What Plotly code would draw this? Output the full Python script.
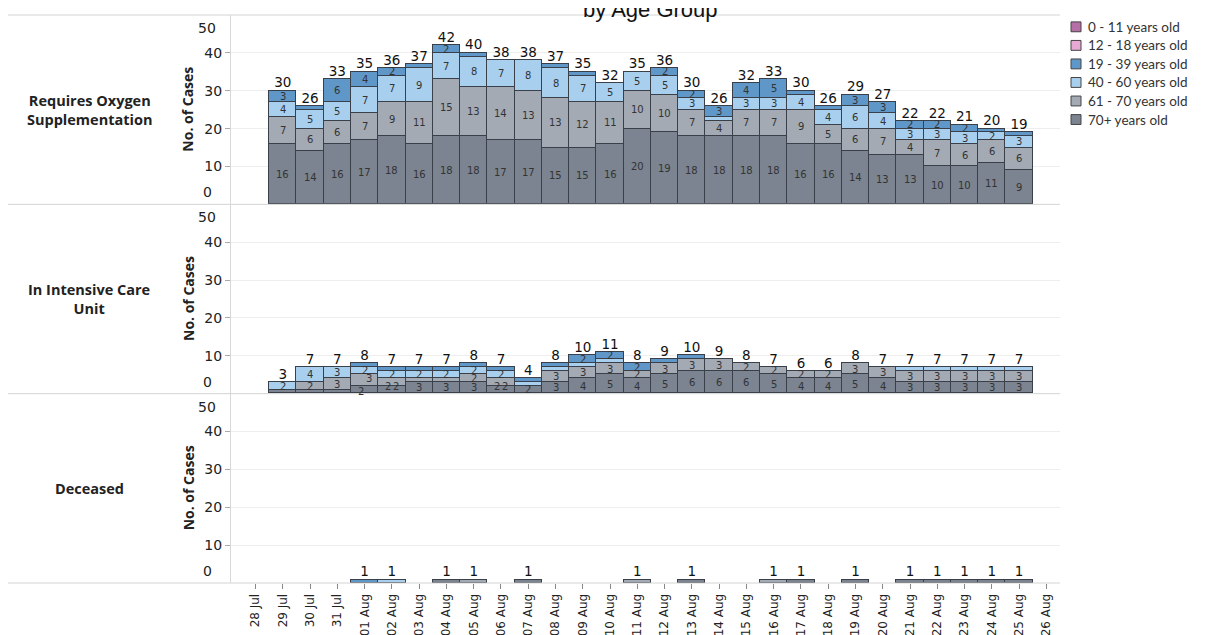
import plotly.graph_objects as go
from plotly.subplots import make_subplots

# ---------------- data ----------------
axis_dates = ["28 Jul", "29 Jul", "30 Jul", "31 Jul",
              "01 Aug", "02 Aug", "03 Aug", "04 Aug", "05 Aug", "06 Aug", "07 Aug",
              "08 Aug", "09 Aug", "10 Aug", "11 Aug", "12 Aug", "13 Aug", "14 Aug",
              "15 Aug", "16 Aug", "17 Aug", "18 Aug", "19 Aug", "20 Aug", "21 Aug",
              "22 Aug", "23 Aug", "24 Aug", "25 Aug", "26 Aug"]
bar_dates = axis_dates[1:29]  # 29 Jul .. 25 Aug

age_groups = ["70+ years old", "61 - 70 years old", "40 - 60 years old",
              "19 - 39 years old", "12 - 18 years old", "0 - 11 years old"]
age_colors = ["#7b8490", "#a3aab4", "#a8d0ee", "#6097c9", "#e6a9d3", "#b56ea6"]

panel_names = ["Requires Oxygen<br>Supplementation", "In Intensive Care<br>Unit", "Deceased"]

# Requires Oxygen Supplementation
oxy_70 = [16, 14, 16, 17, 18, 16, 18, 18, 17, 17, 15, 15, 16, 20, 19, 18, 18, 18, 18, 16, 16, 14, 13, 13, 10, 10, 11, 9]
oxy_61 = [7, 6, 6, 7, 9, 11, 15, 13, 14, 13, 13, 12, 11, 10, 10, 7, 4, 7, 7, 9, 5, 6, 7, 4, 7, 6, 6, 6]
oxy_40 = [4, 5, 5, 7, 7, 9, 7, 8, 7, 8, 8, 7, 5, 5, 5, 3, 1, 3, 3, 4, 4, 6, 4, 3, 3, 3, 2, 3]
oxy_19 = [3, 1, 6, 4, 2, 1, 2, 1, 0, 0, 1, 1, 0, 0, 2, 2, 3, 4, 5, 1, 1, 3, 3, 2, 2, 2, 1, 1]
oxy_12 = [0] * 28
oxy_0 = [0] * 28

# In Intensive Care Unit
icu_70 = [1, 1, 1, 2, 2, 3, 3, 3, 2, 2, 3, 4, 5, 4, 5, 6, 6, 6, 5, 4, 4, 5, 4, 3, 3, 3, 3, 3]
icu_61 = [0, 2, 3, 3, 2, 1, 1, 2, 2, 0, 3, 3, 3, 2, 3, 3, 3, 2, 2, 2, 2, 3, 3, 3, 3, 3, 3, 3]
icu_40 = [2, 4, 3, 2, 2, 2, 2, 2, 2, 1, 1, 1, 1, 0, 0, 0, 0, 0, 0, 0, 0, 0, 0, 1, 1, 1, 1, 1]
icu_19 = [0, 0, 0, 1, 1, 1, 1, 1, 1, 1, 1, 2, 2, 2, 1, 1, 0, 0, 0, 0, 0, 0, 0, 0, 0, 0, 0, 0]
icu_12 = [0] * 28
icu_0 = [0] * 28

# Deceased
dec_70 = [0, 0, 0, 0, 0, 0, 1, 0, 0, 1, 0, 0, 0, 0, 0, 1, 0, 0, 0, 1, 0, 1, 0, 1, 1, 1, 1, 1]
dec_61 = [0, 0, 0, 0, 0, 0, 0, 1, 0, 0, 0, 0, 0, 1, 0, 0, 0, 0, 1, 0, 0, 0, 0, 0, 0, 0, 0, 0]
dec_40 = [0, 0, 0, 0, 1, 0, 0, 0, 0, 0, 0, 0, 0, 0, 0, 0, 0, 0, 0, 0, 0, 0, 0, 0, 0, 0, 0, 0]
dec_19 = [0, 0, 0, 1, 0, 0, 0, 0, 0, 0, 0, 0, 0, 0, 0, 0, 0, 0, 0, 0, 0, 0, 0, 0, 0, 0, 0, 0]
dec_12 = [0] * 28
dec_0 = [0] * 28

panels = [
    [oxy_70, oxy_61, oxy_40, oxy_19, oxy_12, oxy_0],
    [icu_70, icu_61, icu_40, icu_19, icu_12, icu_0],
    [dec_70, dec_61, dec_40, dec_19, dec_12, dec_0],
]

# ---------------- layout geometry (pixels) ----------------
W, H = 1208, 635
L, R, T, B = 223, 1052, 7, 583
PW, PH = R - L, B - T

NUM_FONT = "DejaVu Sans"
LAB_FONT = "Open Sans"

fig = make_subplots(rows=3, cols=1, shared_xaxes=True, vertical_spacing=0)

for p, series in enumerate(panels):
    row = p + 1
    xr = "x" if row == 1 else f"x{row}"
    yr = "y" if row == 1 else f"y{row}"
    base = [0] * len(bar_dates)
    seg_labels = [[] for _ in bar_dates]  # per bar: (mid, value)
    for g, (vals, name, col) in enumerate(zip(series, age_groups, age_colors)):
        yv = [v if v else None for v in vals]
        fig.add_trace(go.Bar(
            x=bar_dates, y=yv, name=name,
            marker=dict(color=col, line=dict(color="#3a4049", width=1)),
            showlegend=False, hoverinfo="skip",
        ), row=row, col=1)
        for i, v in enumerate(vals):
            if v >= 2:
                seg_labels[i].append([base[i] + v / 2, v, 0, 0])
            base[i] += v
    # Tableau-like nudging of crowded labels in the bottom two segments
    for labs in seg_labels:
        if len(labs) >= 2 and labs[0][1] == 2 and labs[1][1] <= 3 and labs[1][0] - labs[0][0] < 3:
            labs[0][2], labs[1][2] = -4, 4
            if labs[1][1] == 2:
                mid = (labs[0][0] + labs[1][0]) / 2
                labs[0][0] = labs[1][0] = mid
            else:
                labs[0][3], labs[1][3] = -2, 2
    for d, labs in zip(bar_dates, seg_labels):
        for mid, v, xs, ys in labs:
            fig.add_annotation(x=d, y=mid, text=str(v), xref=xr, yref=yr,
                               showarrow=False, xshift=xs, yshift=ys,
                               xanchor="center", yanchor="middle",
                               font=dict(family=NUM_FONT, size=10, color="#333333"))
    # totals above bars
    tx = [d for d, t in zip(bar_dates, base) if t > 0]
    ty = [t for t in base if t > 0]
    fig.add_trace(go.Scatter(
        x=tx, y=ty, text=[str(t) for t in ty], mode="text", textposition="top center",
        textfont=dict(family=NUM_FONT, size=13.5, color="#111111"),
        showlegend=False, hoverinfo="skip"), row=row, col=1)

fig.update_layout(
    width=W, height=H, barmode="stack", bargap=0,
    margin=dict(l=L, r=W - R, t=T, b=H - B),
    plot_bgcolor="white", paper_bgcolor="white",
    showlegend=False,
)

for row in range(1, 4):
    fig.update_yaxes(range=[0, 50], tickvals=[10, 20, 30, 40],
                     ticks="outside", ticklen=5, tickcolor="#aaaaaa",
                     tickfont=dict(family=NUM_FONT, size=14, color="#222222"),
                     showgrid=True, gridcolor="#eeeeee", gridwidth=1,
                     showline=True, linecolor="#d8d8d8", zeroline=False,
                     fixedrange=True, row=row, col=1)
    fig.update_xaxes(type="category", categoryorder="array", categoryarray=axis_dates,
                     range=[-0.9, 29.5], showgrid=False, showline=False,
                     row=row, col=1)

fig.update_xaxes(tickvals=axis_dates, ticktext=axis_dates, tickangle=-90,
                 ticks="outside", ticklen=5, tickcolor="#888888",
                 tickfont=dict(family=NUM_FONT, size=12, color="#222222"),
                 showticklabels=True, row=3, col=1)

# panel divider lines across full width
x_left_paper = -L / PW
for yy in [0, 1 / 3, 2 / 3, 1]:
    fig.add_shape(type="line", xref="paper", yref="paper",
                  x0=x_left_paper, x1=1, y0=yy, y1=yy,
                  line=dict(color="#d4d4d4", width=1))

# row headers, axis titles, 0/50 labels
for p in range(3):
    yref = "y domain" if p == 0 else f"y{p + 1} domain"
    fig.add_annotation(text=f"<b>{panel_names[p]}</b>", xref="paper", yref=yref,
                       x=(81 - L) / PW, y=0.5, showarrow=False, xanchor="center",
                       yanchor="middle", align="center",
                       font=dict(family=LAB_FONT, size=14.5, color="#222222"))
    fig.add_annotation(text="<b>No. of Cases</b>", xref="paper", yref=yref,
                       x=(180 - L) / PW, y=0.5, showarrow=False, textangle=-90,
                       xanchor="center", yanchor="middle",
                       font=dict(family=LAB_FONT, size=14, color="#222222"))
    fig.add_annotation(text="0", xref="paper", yref=yref, x=(199 - L) / PW, y=0,
                       yshift=12, showarrow=False, xanchor="center", yanchor="middle",
                       font=dict(family=NUM_FONT, size=14, color="#222222"))
    fig.add_annotation(text="50", xref="paper", yref=yref, x=(199 - L) / PW, y=1,
                       yshift=-13, showarrow=False, xanchor="center", yanchor="middle",
                       font=dict(family=NUM_FONT, size=14, color="#222222"))

# title (partially cut off at the top, as in the reference)
fig.add_annotation(text="by Age Group", xref="paper", yref="paper",
                   x=(642 - L) / PW, y=1 + (T - 1) / PH, showarrow=False,
                   xanchor="center", yanchor="middle",
                   font=dict(family="Liberation Sans", size=22, color="#111111"))

# legend (manual, top-right)
leg_order = list(reversed(list(zip(age_groups, age_colors))))
for i, (name, col) in enumerate(leg_order):
    cy = 19 + i * 18.8
    fig.add_shape(type="rect", xref="paper", yref="paper",
                  x0=(1063 - L) / PW, x1=(1073 - L) / PW,
                  y0=1 - (cy + 5 - T) / PH, y1=1 - (cy - 5 - T) / PH,
                  fillcolor=col, line=dict(color="#444444", width=1))
    fig.add_annotation(text=name, xref="paper", yref="paper",
                       x=(1078 - L) / PW, y=1 - (cy - T) / PH, showarrow=False,
                       xanchor="left", yanchor="middle",
                       font=dict(family="Lato", size=13.5, color="#333333"))

fig.write_html("out.html")
